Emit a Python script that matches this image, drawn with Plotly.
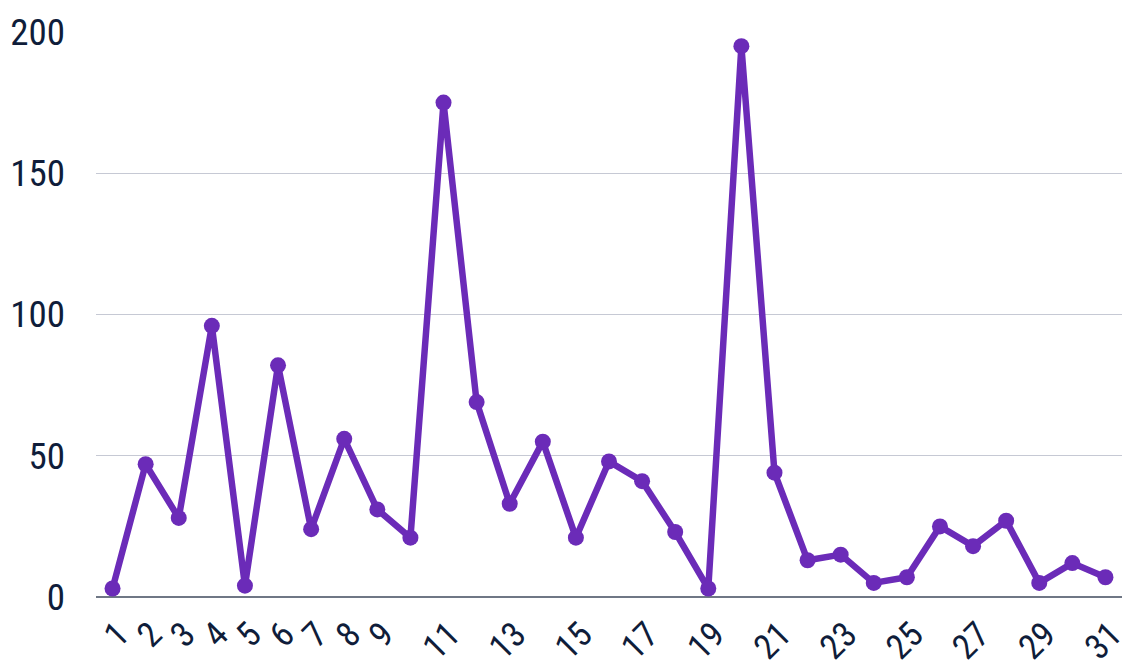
import plotly.graph_objects as go

days = list(range(1, 32))
values = [3, 47, 28, 96, 4, 82, 24, 56, 31, 21, 175, 69, 33, 55, 21, 48, 41, 23, 3, 195,
          44, 13, 15, 5, 7, 25, 18, 27, 5, 12, 7]
x_tickvals = [1, 2, 3, 4, 5, 6, 7, 8, 9, 11, 13, 15, 17, 19, 21, 23, 25, 27, 29, 31]
y_tickvals = [0, 50, 100, 150, 200]

purple = "#6b2bb8"
text_color = "#0f1d3a"
font_family = "'Roboto Condensed', 'Open Sans', sans-serif"

fig = go.Figure(go.Scatter(
    x=days, y=values, mode="lines+markers",
    line=dict(color=purple, width=6.5),
    marker=dict(color=purple, size=16),
    cliponaxis=False,
))

fig.update_layout(
    width=1122, height=662,
    margin=dict(l=88, r=8, t=24, b=73, autoexpand=False),
    paper_bgcolor="white", plot_bgcolor="white",
    showlegend=False,
    font=dict(family=font_family, color=text_color, size=36),
)
fig.update_xaxes(
    range=[0.5, 31.5], automargin=False,
    tickmode="array", tickvals=x_tickvals, ticktext=[str(v) for v in x_tickvals],
    tickangle=-45, showgrid=False, zeroline=False, showline=False,
    tickfont=dict(size=35, color=text_color, family=font_family),
    ticklabelstandoff=9, ticklabelshift=6, ticklabeloverflow="allow",
)
fig.update_yaxes(
    range=[0, 200], automargin=False,
    tickmode="array", tickvals=y_tickvals,
    showgrid=True, gridcolor="#c6c9d4", gridwidth=1.2,
    zeroline=True, zerolinecolor="#6f7785", zerolinewidth=1.5,
    showline=False,
    tickfont=dict(size=37, color=text_color, family=font_family),
    ticklabelstandoff=30, ticklabeloverflow="allow",
)

fig.write_html("out.html")
